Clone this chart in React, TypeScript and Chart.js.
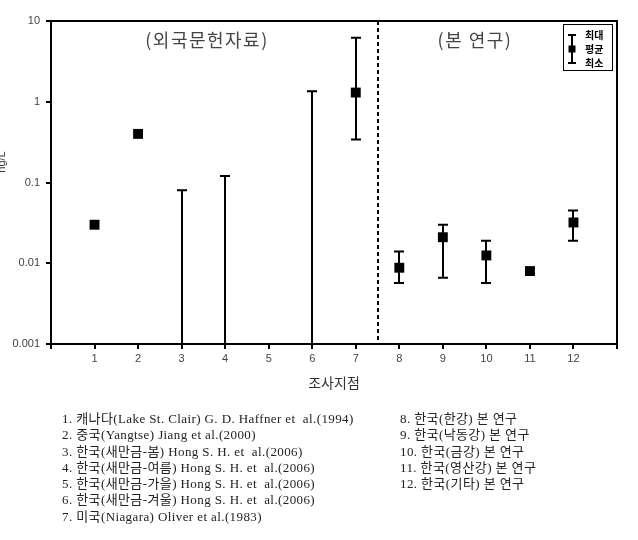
import React, { useEffect, useRef } from "react";
import { Chart, registerables } from "chart.js";

Chart.register(...registerables);

// ---- data ----
const categories = [1, 2, 3, 4, 5, 6, 7, 8, 9, 10, 11, 12];
const meanValues: (number | null)[] = [0.03, 0.4, null, null, null, null, 1.3, 0.0088, 0.021, 0.0125, 0.008, 0.032];
const maxValues: (number | null)[] = [null, null, 0.08, 0.12, null, 1.35, 6.2, 0.014, 0.03, 0.019, 0.0088, 0.045];
const minValues: (number | null)[] = [null, null, 0.0001, 0.0001, null, 0.0001, 0.34, 0.0057, 0.0066, 0.0057, 0.0073, 0.019];
const yTickValues = [0.001, 0.01, 0.1, 1, 10];
const xMin = 0;
const xMax = 13;
const dividerX = 7.5;
const yAxisTitle = "ng/L";
const xAxisTitle = "조사지점";
const leftGroupLabel = "(외국문헌자료)";
const rightGroupLabel = "(본 연구)";
const legendLabels = ["최대", "평균", "최소"];
const notesLeft = [
  "1. 캐나다(Lake St. Clair) G. D. Haffner et  al.(1994)",
  "2. 중국(Yangtse) Jiang et al.(2000)",
  "3. 한국(새만금-봄) Hong S. H. et  al.(2006)",
  "4. 한국(새만금-여름) Hong S. H. et  al.(2006)",
  "5. 한국(새만금-가을) Hong S. H. et  al.(2006)",
  "6. 한국(새만금-겨울) Hong S. H. et  al.(2006)",
  "7. 미국(Niagara) Oliver et al.(1983)",
];
const notesRight = [
  "8. 한국(한강) 본 연구",
  "9. 한국(낙동강) 본 연구",
  "10. 한국(금강) 본 연구",
  "11. 한국(영산강) 본 연구",
  "12. 한국(기타) 본 연구",
];

const overlayPlugin = {
  id: "overlay",
  beforeDatasetsDraw(chart: any) {
    const { ctx, chartArea } = chart;
    const xs = chart.scales.x;
    const ys = chart.scales.y;
    ctx.save();
    ctx.strokeStyle = "#000";
    ctx.lineWidth = 2;
    const cap = 5;
    categories.forEach((c, i) => {
      const mx = maxValues[i];
      const mn = minValues[i];
      if (mx == null || mn == null) return;
      const px = Math.round(xs.getPixelForValue(c));
      const yTop = ys.getPixelForValue(mx);
      let yBot = ys.getPixelForValue(mn);
      const botInside = yBot <= chartArea.bottom;
      if (!botInside) yBot = chartArea.bottom;
      ctx.beginPath();
      ctx.moveTo(px, yTop);
      ctx.lineTo(px, yBot);
      ctx.moveTo(px - cap, yTop);
      ctx.lineTo(px + cap, yTop);
      if (botInside) {
        ctx.moveTo(px - cap, yBot);
        ctx.lineTo(px + cap, yBot);
      }
      ctx.stroke();
    });
    ctx.restore();
  },
  afterDraw(chart: any) {
    const { ctx, chartArea } = chart;
    const xs = chart.scales.x;
    ctx.save();
    // frame
    ctx.strokeStyle = "#000";
    ctx.lineWidth = 2;
    ctx.strokeRect(chartArea.left, chartArea.top, chartArea.right - chartArea.left, chartArea.bottom - chartArea.top);
    // divider
    const dx = Math.round(xs.getPixelForValue(dividerX));
    ctx.setLineDash([4, 3]);
    ctx.beginPath();
    ctx.moveTo(dx, chartArea.top);
    ctx.lineTo(dx, chartArea.bottom);
    ctx.stroke();
    ctx.setLineDash([]);
    // group labels
    ctx.fillStyle = "#444";
    ctx.font = "18px 'Noto Sans CJK KR'";
    (ctx as any).letterSpacing = "1.5px";
    ctx.textAlign = "center";
    ctx.textBaseline = "middle";
    ctx.fillText(leftGroupLabel, 207, chartArea.top + 19);
    ctx.fillText(rightGroupLabel, 475, chartArea.top + 19);
    (ctx as any).letterSpacing = "0px";
    // axis titles
    ctx.font = "14px 'Noto Sans CJK KR'";
    ctx.fillStyle = "#333";
    ctx.fillText(xAxisTitle, (chartArea.left + chartArea.right) / 2, 383);
    ctx.save();
    ctx.translate(2, 162);
    ctx.rotate(-Math.PI / 2);
    ctx.font = "11px 'Liberation Sans'";
    ctx.fillText(yAxisTitle, 0, 0);
    ctx.restore();
    // legend
    const lx = 563, ly = 24, lw = 49, lh = 46;
    ctx.lineWidth = 1;
    ctx.strokeStyle = "#000";
    ctx.strokeRect(lx + 0.5, ly + 0.5, lw, lh);
    ctx.lineWidth = 2;
    const ix = 572;
    ctx.beginPath();
    ctx.moveTo(ix, 35);
    ctx.lineTo(ix, 63);
    ctx.moveTo(ix - 4, 35);
    ctx.lineTo(ix + 4, 35);
    ctx.moveTo(ix - 4, 63);
    ctx.lineTo(ix + 4, 63);
    ctx.stroke();
    ctx.fillStyle = "#000";
    ctx.fillRect(ix - 3.5, 45.5, 7, 7);
    ctx.font = "bold 10px 'Noto Sans CJK KR'";
    ctx.textAlign = "left";
    legendLabels.forEach((t, i) => {
      ctx.fillText(t, 585, 35 + i * 14);
    });
    ctx.restore();
  },
};

export default function App() {
  const ref = useRef<HTMLCanvasElement | null>(null);
  useEffect(() => {
    if (!ref.current) return;
    const chart = new Chart(ref.current, {
      type: "scatter",
      data: {
        datasets: [
          {
            label: "평균",
            data: categories.map((c, i) => ({ x: c, y: meanValues[i] as any })),
            pointStyle: "rect",
            pointRadius: 7,
            pointHoverRadius: 7,
            backgroundColor: "#000",
            borderColor: "#000",
            borderWidth: 0,
          },
        ],
      },
      options: {
        responsive: false,
        animation: false,
        devicePixelRatio: 1,
        layout: { padding: { top: 21, right: 21, bottom: 156, left: 0 } },
        plugins: { legend: { display: false }, tooltip: { enabled: false } },
        scales: {
          x: {
            type: "linear",
            min: xMin,
            max: xMax,
            afterBuildTicks: (s: any) => {
              const t = [];
              for (let v = xMin; v <= xMax; v++) t.push({ value: v });
              s.ticks = t;
            },
            afterFit: (s: any) => {
              s.height = 40;
            },
            ticks: {
              autoSkip: false,
              maxRotation: 0,
              padding: 3,
              color: "#444",
              font: { family: "'Liberation Sans'", size: 11 },
              callback: (v: any) => (categories.includes(Number(v)) ? String(v) : ""),
            },
            grid: { drawOnChartArea: false, drawTicks: true, tickLength: 5, color: "#000", lineWidth: 2 },
            border: { display: true, color: "#000", width: 2 },
          },
          y: {
            type: "logarithmic",
            min: 0.001,
            max: 10,
            afterBuildTicks: (s: any) => {
              s.ticks = yTickValues.map((v) => ({ value: v }));
            },
            afterFit: (s: any) => {
              s.width = 51;
            },
            ticks: {
              autoSkip: false,
              padding: 6,
              color: "#444",
              font: { family: "'Liberation Sans'", size: 11 },
              callback: (v: any) => String(v),
            },
            grid: { drawOnChartArea: false, drawTicks: true, tickLength: 5, color: "#000", lineWidth: 2 },
            border: { display: true, color: "#000", width: 2 },
          },
        },
      },
      plugins: [overlayPlugin],
    });
    return () => chart.destroy();
  }, []);

  const noteStyle: React.CSSProperties = {
    position: "absolute",
    fontFamily: "'Liberation Serif', 'Noto Sans CJK KR', serif",
    fontSize: 13,
    letterSpacing: "0.4px",
    lineHeight: "16.3px",
    color: "#222",
    whiteSpace: "pre",
    margin: 0,
  };

  return (
    <div style={{ position: "absolute", left: 0, top: 0, width: 638, height: 540, background: "#fff" }}>
      <canvas ref={ref} width={638} height={540} style={{ position: "absolute", left: 0, top: 0 }} />
      <div style={{ ...noteStyle, left: 62, top: 411 }}>
        {notesLeft.map((t) => (
          <div key={t}>{t}</div>
        ))}
      </div>
      <div style={{ ...noteStyle, left: 400, top: 411 }}>
        {notesRight.map((t) => (
          <div key={t}>{t}</div>
        ))}
      </div>
    </div>
  );
}
